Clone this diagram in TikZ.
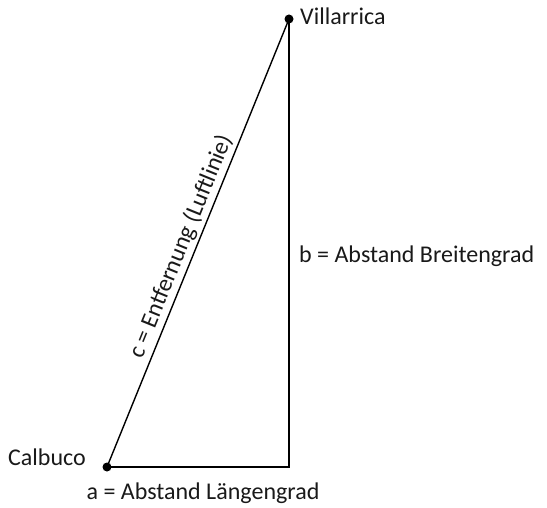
\documentclass[tikz,border=0pt]{standalone}
\usepackage{fontspec}
\setmainfont{Carlito}
\usepackage{tikz}

\begin{document}
\begin{tikzpicture}[x=1pt,y=-1pt,font=\fontsize{24}{28}\selectfont,text=black!90]
\useasboundingbox (0,0) rectangle (547,508);
\node[circle,fill,inner sep=0pt,minimum size=9pt] (C) at (107,467) {};
\node[circle,fill,inner sep=0pt,minimum size=9pt] (V) at (289,19) {};
\coordinate (R) at (289,467);

\node[anchor=base east,inner sep=0pt] (Cl) at (86,465) {Calbuco};
\node[anchor=base west,inner sep=0pt] (Vl) at (300,25) {Villarrica};
\node[anchor=base west,inner sep=0pt] (bl) at (299,263) {b = Abstand Breitengrad};
\node[anchor=base,inner sep=0pt] (al) at (203,499) {a = Abstand Längengrad};

\draw[line width=1.4pt] (C.center) -- (R) -- (V.center);
\draw[line width=1.4pt] (C.center) -- node[sloped,above,pos=0.48,inner sep=3pt] (cl) {c = Entfernung (Luftlinie)} (V.center);
\end{tikzpicture}
\end{document}
